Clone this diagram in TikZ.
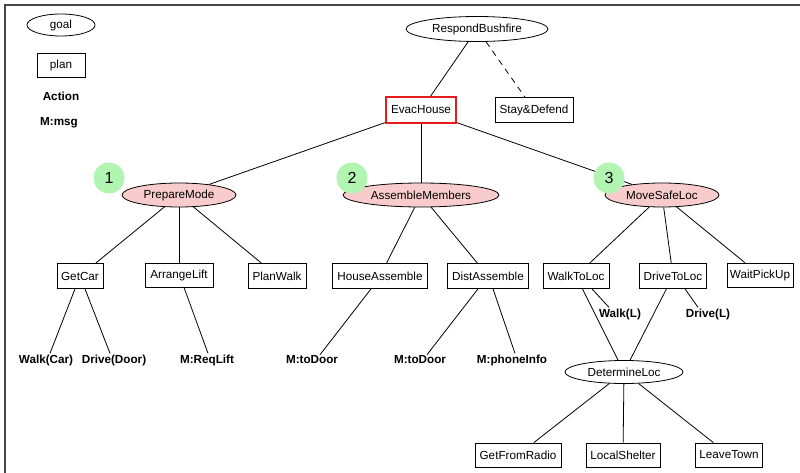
\documentclass[tikz,border=0pt]{standalone}
\usepackage{fontspec}
\setmainfont{Liberation Sans}
\usetikzlibrary{shapes.geometric}
\definecolor{goalpink}{RGB}{248,204,204}
\definecolor{markgreen}{RGB}{178,245,178}
\definecolor{evacred}{RGB}{228,28,28}
\definecolor{framegray}{RGB}{70,70,70}
\tikzset{
  every node/.style={font=\fontsize{11.7}{13}\selectfont, inner sep=0pt},
  goal/.style n args={2}{ellipse, draw, fill=white, line width=0.8pt,
    minimum width=#1, minimum height=#2},
  chosengoal/.style n args={2}{ellipse, draw, fill=goalpink, line width=0.8pt,
    minimum width=#1, minimum height=#2},
  plan/.style n args={2}{rectangle, draw, fill=white, line width=0.8pt,
    minimum width=#1, minimum height=#2},
  act/.style={font=\fontsize{11.7}{13}\selectfont\bfseries, inner sep=1pt},
  marker/.style={circle, fill=markgreen, minimum size=31pt,
    font=\fontsize{16}{18}\selectfont},
  link/.style={line width=0.8pt},
  optlink/.style={line width=0.8pt, dash pattern=on 6pt off 5pt},
}
\begin{document}
\begin{tikzpicture}[x=1pt, y=-1pt]
\useasboundingbox (0,0) rectangle (800,473);

% frame
\draw[framegray, line width=1.5pt] (5,473) -- (5,5) -- (800,5);

% legend
\node[goal={68pt}{22pt}] (lgoal) at (61,25) {goal};
\node[plan={48pt}{24pt}] (lplan) at (61,65) {plan};
\node[act] (laction) at (61,96) {Action};
\node[act] (lmsg) at (59,123) {M:msg};

% top of the tree
\node[goal={142pt}{25pt}] (rb) at (477,29) {RespondBushfire};
\node[plan={70pt}{26pt}, draw=evacred, line width=2pt] (evac) at (421,110) {EvacHouse};
\node[plan={78pt}{25pt}] (sd) at (534,110) {Stay\&Defend};

% sub-goals
\node[chosengoal={114pt}{24pt}] (pm) at (179,195) {PrepareMode};
\node[chosengoal={156pt}{24pt}] (am) at (421,195) {AssembleMembers};
\node[chosengoal={114pt}{24pt}] (ms) at (662,195) {MoveSafeLoc};

% plans
\node[plan={46pt}{25pt}] (gc) at (80,276) {GetCar};
\node[plan={68pt}{24pt}] (al) at (179,275) {ArrangeLift};
\node[plan={58pt}{25pt}] (pw) at (277,276) {PlanWalk};
\node[plan={95pt}{25pt}] (ha) at (380,276) {HouseAssemble};
\node[plan={81pt}{25pt}] (da) at (488,276) {DistAssemble};
\node[plan={66pt}{25pt}] (wl) at (576,276) {WalkToLoc};
\node[plan={67pt}{25pt}] (dl) at (673,276) {DriveToLoc};
\node[plan={66pt}{24pt}] (wp) at (760,275) {WaitPickUp};

% actions and messages
\node[act] (wcar) at (46,360) {Walk(Car)};
\node[act] (ddoor) at (114,360) {Drive(Door)};
\node[act] (reqlift) at (207,360) {M:ReqLift};
\node[act] (todoorA) at (312,360) {M:toDoor};
\node[act] (todoorB) at (420,360) {M:toDoor};
\node[act] (phone) at (512,360) {M:phoneInfo};
\node[act] (walkL) at (620,314) {Walk(L)};
\node[act] (driveL) at (708,314) {Drive(L)};

% location sub-tree
\node[goal={118pt}{23pt}] (det) at (624,372) {DetermineLoc};
\node[plan={86pt}{24pt}] (gfr) at (518,455) {GetFromRadio};
\node[plan={74pt}{24pt}] (ls) at (623,455) {LocalShelter};
\node[plan={67pt}{24pt}] (lt) at (729,455) {LeaveTown};

% connectors
\draw[link] (rb) -- (evac);
\draw[optlink] (rb) -- (sd);
\draw[link] (evac) -- (pm);
\draw[link] (evac) -- (am);
\draw[link] (evac) -- (ms);

\draw[link] (pm) -- (gc);
\draw[link] (pm) -- (al);
\draw[link] (pm) -- (pw);
\draw[link] (am) -- (ha);
\draw[link] (am) -- (da);
\draw[link] (ms) -- (wl);
\draw[link] (ms) -- (dl);
\draw[link] (ms) -- (wp);

\draw[link] ([xshift=-5pt]gc.south) -- ([xshift=4pt]wcar.north);
\draw[link] ([xshift=5pt]gc.south) -- ([xshift=-4pt]ddoor.north);
\draw[link] ([xshift=5pt]al.south) -- ([xshift=1pt]reqlift.north);
\draw[link] ([xshift=-9pt]ha.south) -- ([xshift=8pt]todoorA.north);
\draw[link] ([xshift=-10pt]da.south) -- ([xshift=7pt]todoorB.north);
\draw[link] ([xshift=5pt]da.south) -- ([xshift=3pt]phone.north);
\draw[link] ([xshift=16pt]wl.south) -- ([xshift=-11pt]walkL.north);
\draw[link] ([xshift=12pt]dl.south) -- ([xshift=-10pt]driveL.north);
\draw[link] (wl) -- (det);
\draw[link] (dl) -- (det);

\draw[link] (det) -- (gfr);
\draw[link] (det) -- (ls);
\draw[link] (det) -- (lt);

% step markers
\node[marker] (m1) at (109,178) {1};
\node[marker] (m2) at (352,178) {2};
\node[marker] (m3) at (609,178) {3};
\end{tikzpicture}
\end{document}
